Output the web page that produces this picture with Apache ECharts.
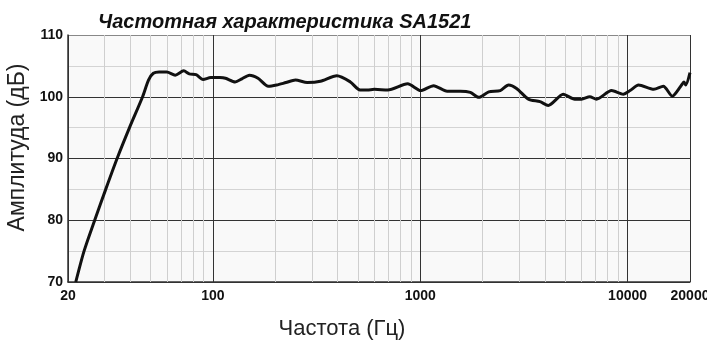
<!DOCTYPE html>
<html>
<head>
<meta charset="utf-8">
<script src="https://cdn.jsdelivr.net/npm/echarts@6/dist/echarts.min.js"></script>
<style>html,body{margin:0;padding:0;background:#fff;}#c{width:707px;height:341px;}</style>
</head>
<body>
<div id="c"></div>
<script>
var titleText = 'Частотная характеристика SA1521';
var xName = 'Частота (Гц)';
var yName = 'Амплитуда (дБ)';
var freqs = [21.8, 23.9, 26.9, 30.4, 34.5, 39.6, 45.8, 48.9, 51.6, 55, 59.9, 65.8, 72.3, 76.9, 82.9, 89.6, 97.6,
  108, 115, 128, 138, 150, 165, 185, 203, 225, 250, 285, 330, 396, 460, 512, 555, 600, 697, 869,
  1005, 1160, 1348, 1560, 1745, 1914, 2140, 2431, 2666, 2925, 3325, 3780, 4145, 4893, 5560, 5990, 6570, 7080, 8370, 9530,
  10280, 11300, 13380, 14870, 16430, 18040, 18720, 19070, 20000];
var amps = [70, 75, 80, 85, 90, 95, 100, 102.7, 103.8, 104.0, 104.0, 103.5, 104.2, 103.7, 103.6, 102.8, 103.1,
  103.1, 103.0, 102.4, 102.9, 103.5, 103.0, 101.7, 101.9, 102.3, 102.7, 102.3, 102.5, 103.4, 102.4, 101.1, 101.1, 101.2, 101.1, 102.1,
  101.0, 101.8, 100.9, 100.9, 100.7, 99.9, 100.8, 101.0, 101.9, 101.3, 99.6, 99.2, 98.6, 100.4, 99.6, 99.6, 100.0, 99.6, 101.0, 100.4,
  101.0, 101.9, 101.2, 101.7, 100.1, 101.7, 102.4, 101.9, 103.9];
var minorFreqs = [30, 40, 50, 60, 70, 80, 90, 200, 300, 400, 500, 600, 700, 800, 900,
  2000, 3000, 4000, 5000, 6000, 7000, 8000, 9000];
var xMin = 20, xMax = 20000, yMin = 70, yMax = 110, yStep = 10;

var data = freqs.map(function (f, i) { return [f, amps[i]]; });
var chart = echarts.init(document.getElementById('c'));
chart.setOption({
  animation: false,
  backgroundColor: '#fff',
  title: {
    text: titleText, left: 93, top: 7,
    textStyle: { fontFamily: 'Liberation Sans', fontSize: 20, fontWeight: 'bold', fontStyle: 'italic', color: '#111' }
  },
  grid: { left: 68, right: 17, top: 35, bottom: 59, show: true, backgroundColor: '#f9f9f9', borderWidth: 0,
    containLabel: false, outerBoundsMode: 'none' },
  xAxis: {
    type: 'log', logBase: 10, min: xMin, max: xMax,
    name: xName, nameLocation: 'middle', nameGap: 36,
    nameTextStyle: { fontFamily: 'Liberation Sans', fontSize: 22, color: '#222', padding: [0, 74, 0, 0] },
    axisLine: { lineStyle: { color: '#333', width: 1.5 } },
    axisTick: { show: false },
    axisLabel: { fontFamily: 'Liberation Sans', fontSize: 14, fontWeight: 'bold', color: '#111', margin: 7,
      formatter: function (v) { return String(Math.round(v)); } },
    splitLine: { show: true, lineStyle: { color: '#333', width: 1 } }
  },
  yAxis: {
    type: 'value', min: yMin, max: yMax, interval: yStep,
    name: yName, nameLocation: 'middle', nameGap: 30,
    nameTextStyle: { fontFamily: 'Liberation Sans', fontSize: 23, color: '#222', padding: [0, 0, 0, 22] },
    axisLine: { show: true, lineStyle: { color: '#333', width: 1.5 } },
    axisTick: { show: false },
    axisLabel: { fontFamily: 'Liberation Sans', fontSize: 14, fontWeight: 'bold', color: '#111', margin: 5 },
    splitLine: { show: true, lineStyle: { color: ['#333', '#333', '#333', '#333', '#888'], width: 1 } },
    minorTick: { show: false, splitNumber: 2 },
    minorSplitLine: { show: true, lineStyle: { color: '#d4d4d4', width: 1 } }
  },
  series: [{
    type: 'line', data: data, showSymbol: false, smooth: 0.25,
    lineStyle: { color: '#111', width: 3 },
    z: 5,
    markLine: {
      silent: true, symbol: 'none', animation: false,
      label: { show: false },
      lineStyle: { color: '#cfcfcf', width: 1, type: 'solid' },
      z: 1,
      data: minorFreqs.map(function (f) { return { xAxis: f }; })
    }
  }]
});
</script>
</body>
</html>
